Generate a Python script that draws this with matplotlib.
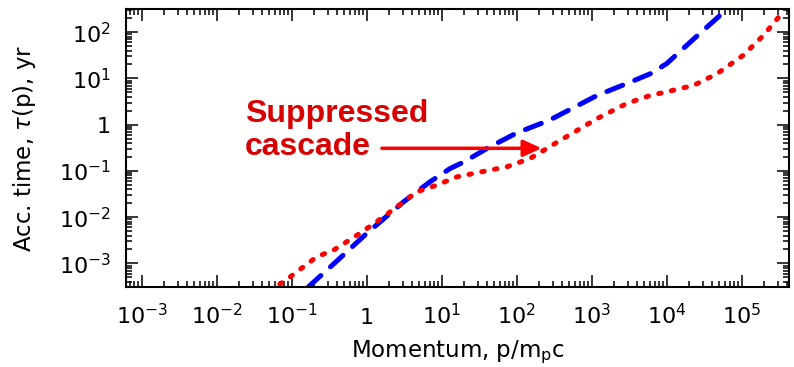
import numpy as np
import matplotlib
matplotlib.use("Agg")
import matplotlib.pyplot as plt
from matplotlib.ticker import FixedLocator, FuncFormatter, NullFormatter

plt.rcParams['font.family'] = ['DejaVu Sans']
plt.rcParams['mathtext.fontset'] = 'dejavusans'

# Blue dashed curve (log10 p, log10 tau)
blue_logp = [-0.78, -0.4, 0.0, 0.49, 0.84, 1.11, 1.29, 1.64, 2.0, 2.44, 3.07, 3.5, 3.78, 4.0, 4.27, 4.44, 4.71, 4.86]
blue_logt = [-3.51, -2.95, -2.35, -1.67, -1.24, -0.95, -0.81, -0.48, -0.18, 0.10, 0.63, 0.91, 1.10, 1.32, 1.72, 1.97, 2.36, 2.56]

# Red dotted curve (suppressed cascade)
red_logp = [-1.16, -1.02, -0.67, -0.44, -0.09, 0.13, 0.4, 0.67, 0.93, 1.2, 1.5, 1.87, 2.18, 2.58, 3.07, 3.47, 3.78, 4.0, 4.36, 4.67, 5.02, 5.29, 5.49]
red_logt = [-3.45, -3.29, -2.86, -2.71, -2.35, -2.10, -1.78, -1.45, -1.31, -1.13, -1.03, -0.91, -0.73, -0.34, 0.13, 0.46, 0.63, 0.71, 0.85, 1.10, 1.50, 1.93, 2.32]

x_decades = [-3, -2, -1, 0, 1, 2, 3, 4, 5]
y_decades = [-3, -2, -1, 0, 1, 2]

xlim = (10**-3.21, 10**5.63)
ylim = (10**-3.51, 10**2.5)

fig = plt.figure(figsize=(7.94, 3.67), dpi=100)
ax = fig.add_axes([126/794, 80/367, 663/794, 278/367])

ax.plot(10**np.array(blue_logp), 10**np.array(blue_logt), color='#0000ff', lw=3.6,
        linestyle=(0, (3.4, 2.6)), dash_capstyle='round', solid_joinstyle='round')
ax.plot(10**np.array(red_logp), 10**np.array(red_logt), color='#ff0000', lw=3.6,
        linestyle=(0, (0.5, 2.1)), dash_capstyle='round')

ax.set_xscale('log')
ax.set_yscale('log')
ax.set_xlim(*xlim)
ax.set_ylim(*ylim)

def fmt(v, pos):
    e = int(round(np.log10(v)))
    if e == 0:
        return '1'
    return r'$\mathregular{10^{%d}}$' % e

def minors(lo, hi, decades):
    out = []
    for d in range(min(decades) - 1, max(decades) + 1):
        for s in range(2, 10):
            v = s * 10.0**d
            if lo < v < hi:
                out.append(v)
    return out

ax.xaxis.set_major_locator(FixedLocator([10.0**d for d in x_decades]))
ax.yaxis.set_major_locator(FixedLocator([10.0**d for d in y_decades]))
ax.xaxis.set_minor_locator(FixedLocator(minors(*xlim, x_decades)))
ax.yaxis.set_minor_locator(FixedLocator(minors(*ylim, y_decades)))
for axis in (ax.xaxis, ax.yaxis):
    axis.set_major_formatter(FuncFormatter(fmt))
    axis.set_minor_formatter(NullFormatter())

ax.tick_params(which='both', direction='in', top=True, right=True, width=1.1, colors='black')
ax.tick_params(which='major', length=8.5, labelsize=16)
ax.tick_params(which='minor', length=4)
ax.tick_params(axis='x', which='major', pad=27)
ax.tick_params(axis='y', which='major', pad=11)
for s in ax.spines.values():
    s.set_linewidth(1.5)
for t in ax.xaxis.get_major_ticks():
    t.label1.set_verticalalignment('baseline')

ax.set_xlabel(r'Momentum, p/m$_{\mathregular{p}}$c', fontsize=16.5)
ax.set_ylabel(r'Acc. time, $\tau$(p), yr', fontsize=16.5)
ax.xaxis.set_label_coords(0.5, -0.185)
ax.yaxis.set_label_coords(-0.133, 0.5)

ax.text(0.1795, 0.595, 'Suppressed', transform=ax.transAxes, color='#d80000',
        fontsize=23, fontweight='bold', ha='left', va='baseline', family='Liberation Sans')
ax.text(0.1795, 0.475, 'cascade', transform=ax.transAxes, color='#d80000',
        fontsize=23, fontweight='bold', ha='left', va='baseline', family='Liberation Sans')
ax.annotate('', xy=(0.627, 0.499), xytext=(0.386, 0.499), xycoords='axes fraction',
            textcoords='axes fraction',
            arrowprops=dict(arrowstyle='-|>,head_length=1.1,head_width=0.5', color='#ff0000',
                            lw=2.5, mutation_scale=10, shrinkA=0, shrinkB=0))

fig.savefig('out.png', dpi=100)
